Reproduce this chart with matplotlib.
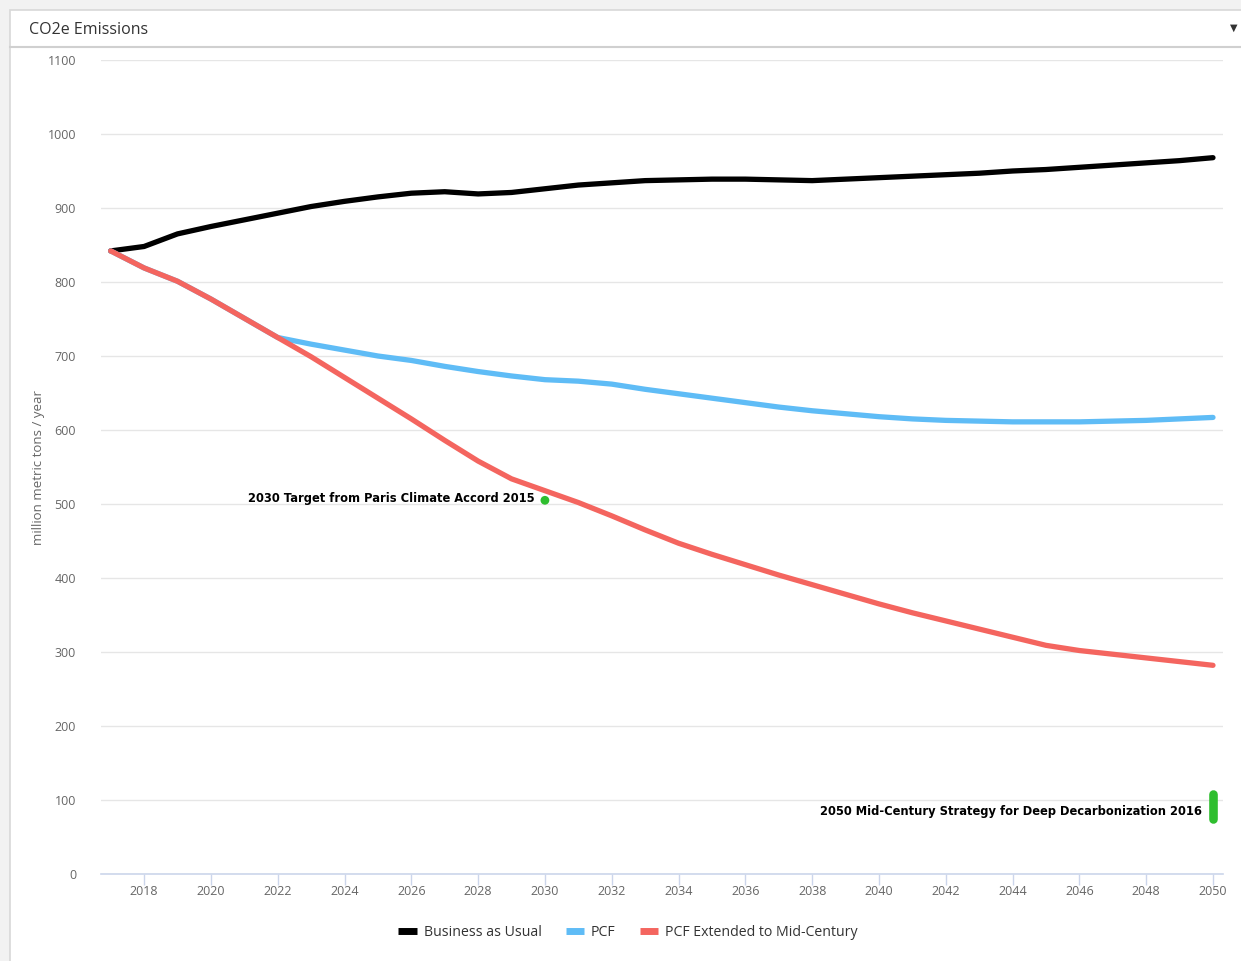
import matplotlib.pyplot as plt
from matplotlib.lines import Line2D
from matplotlib.patches import Rectangle

years = list(range(2017, 2051))

bau = [842, 848, 865, 875, 884, 893, 902, 909, 915, 920, 922, 919, 921, 926,
       931, 934, 937, 938, 939, 939, 938, 937, 939, 941, 943, 945, 947, 950,
       952, 955, 958, 961, 964, 968]

pcf = [842, 819, 801, 777, 751, 725, 716, 708, 700, 694, 686, 679, 673, 668,
       666, 662, 655, 649, 643, 637, 631, 626, 622, 618, 615, 613, 612, 611,
       611, 611, 612, 613, 615, 617]

ext = [842, 819, 801, 777, 751, 725, 699, 671, 643, 615, 586, 558, 534, 518,
       502, 484, 465, 447, 432, 418, 404, 391, 378, 365, 353, 342, 331, 320,
       309, 302, 297, 292, 287, 282]

target_2030 = (2030, 505)
target_2050 = (2050, 74, 108)

series_names = ["Business as Usual", "PCF", "PCF Extended to Mid-Century"]
colors = ["#000000", "#5fbcf6", "#f4655f"]
green = "#2fbe2f"

plt.rcParams["font.family"] = ["Open Sans", "DejaVu Sans"]

fig = plt.figure(figsize=(12.41, 9.61), dpi=100)
W, H = 1241, 961

# page background + card frame
fig.patches.append(Rectangle((0, 0), 1, 1, transform=fig.transFigure,
                             facecolor="#f2f2f2", edgecolor="none", zorder=-10))
fig.patches.append(Rectangle((10 / W, -0.05), 1, 1.05 - 10 / H, transform=fig.transFigure,
                             facecolor="white", edgecolor="#d8d8d8", linewidth=1.2,
                             zorder=-9))
fig.lines.append(Line2D([10 / W, 1], [1 - 47 / H, 1 - 47 / H], transform=fig.transFigure,
                        color="#d0d0d0", linewidth=1.5))
fig.text(29 / W, 1 - 30 / H, "CO2e Emissions", fontsize=11.5, color="#333333",
         ha="left", va="center")
fig.text(1234 / W, 1 - 28 / H, "\u25BC", fontsize=7, color="#333333",
         ha="center", va="center", family="DejaVu Sans")

ax = fig.add_axes([101 / W, 1 - 874 / H, (1223 - 101) / W, (874 - 60) / H])
ax.set_facecolor("none")

ax.plot(years, bau, color=colors[0], linewidth=3.8, solid_capstyle="round",
        solid_joinstyle="round", zorder=3, label=series_names[0])
ax.plot(years, pcf, color=colors[1], linewidth=3.8, solid_capstyle="round",
        solid_joinstyle="round", zorder=3, label=series_names[1])
ax.plot(years, ext, color=colors[2], linewidth=3.8, solid_capstyle="round",
        solid_joinstyle="round", zorder=4, label=series_names[2])

# targets
ax.scatter([target_2030[0]], [target_2030[1]], s=40, color=green, zorder=5,
           edgecolors="none")
ax.text(target_2030[0] - 0.3, target_2030[1] + 2, "2030 Target from Paris Climate Accord 2015",
        ha="right", va="center", fontsize=8.3, fontweight="bold", color="#000000",
        family="DejaVu Sans", zorder=6)
ax.plot([target_2050[0], target_2050[0]], [target_2050[1], target_2050[2]],
        color=green, linewidth=6.2, solid_capstyle="round", zorder=5)
ax.text(target_2050[0] - 0.32, 85,
        "2050 Mid-Century Strategy for Deep Decarbonization 2016",
        ha="right", va="center", fontsize=8.3, fontweight="bold", color="#000000",
        family="DejaVu Sans", zorder=6)

ax.set_xlim(2016.71, 2050.3)
ax.set_ylim(0, 1100)
ax.set_yticks(range(0, 1101, 100))
ax.set_xticks(range(2018, 2051, 2))
ax.grid(axis="y", color="#e6e6e6", linewidth=1)
ax.set_axisbelow(True)
for s in ["top", "right", "left"]:
    ax.spines[s].set_visible(False)
ax.spines["bottom"].set_color("#ccd6eb")
ax.spines["bottom"].set_linewidth(1.2)
ax.tick_params(axis="y", length=0, pad=18, labelsize=9, labelcolor="#666666")
ax.tick_params(axis="x", length=8, width=1, color="#ccd6eb", pad=0,
               labelsize=9, labelcolor="#666666")
ax.set_ylabel("million metric tons / year", fontsize=9.5, color="#666666")
ax.yaxis.set_label_coords(-56 / (1223 - 101), 0.5)

handles = [Line2D([0], [0], color=c, linewidth=5, solid_capstyle="butt") for c in colors]
fig.legend(handles, series_names, loc="center", bbox_to_anchor=(628 / W, 1 - 932 / H),
           ncol=3, frameon=False, fontsize=10.2, labelcolor="#333333",
           handlelength=1.3, handletextpad=0.5, columnspacing=1.7)

fig.savefig("out.png", dpi=100)
